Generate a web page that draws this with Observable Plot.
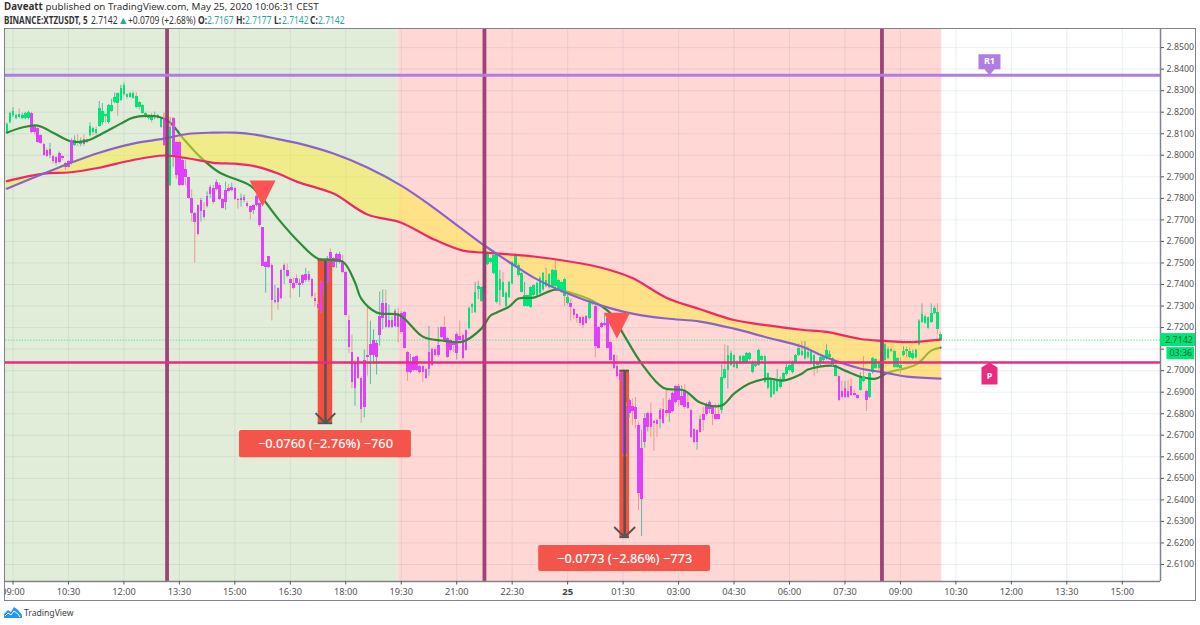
<!DOCTYPE html>
<html><head><meta charset="utf-8">
<script src="https://cdn.jsdelivr.net/npm/d3@7"></script>
<script src="https://cdn.jsdelivr.net/npm/@observablehq/plot@0.6"></script>
<style>
html,body{margin:0;padding:0;background:#fff;width:1200px;height:625px;overflow:hidden}
body{position:relative;font-family:"Noto Sans",sans-serif;color:#333}
#head{position:absolute;left:0;top:0;width:500px;height:28px;white-space:nowrap}
#head div{position:absolute;left:4px;top:1px;font-size:9.8px;line-height:12px}
#head b{font-weight:700}
#head span{position:absolute;top:14px;font-size:10px;line-height:12px;transform:scaleX(.85);transform-origin:left}
#head .v{color:#26a69a}
#head .k{font-weight:700}
#head .sym{font-weight:700;transform:scaleX(.81)}
#head .arrow{transform:none;font-size:10.5px;left:118px}
#chart{position:absolute;left:5px;top:29px;width:1190px;height:571px;outline:1.5px solid #80838a}
#chart svg{display:block}
#foot{position:absolute;left:4px;top:605px;height:15px;display:flex;align-items:center;font-size:8.6px;color:#3a3e47}
#foot svg{margin-right:2px}
</style></head><body>
<div id="head">
<div><b>Daveatt</b> published on TradingView.com, May 25, 2020 10:06:31 CEST</div>
<span class="sym" style="left:4px">BINANCE:XTZUSDT, 5</span>
<span style="left:91px">2.7142</span>
<span class="v arrow">▲</span>
<span style="left:128px">+0.0709 (+2.68%)</span>
<span class="k" style="left:198px">O:</span><span class="v" style="left:207px">2.7167</span>
<span class="k" style="left:236px">H:</span><span class="v" style="left:245px">2.7177</span>
<span class="k" style="left:274px">L:</span><span class="v" style="left:282px">2.7142</span>
<span class="k" style="left:310px">C:</span><span class="v" style="left:318px">2.7142</span>
</div>
<div id="chart"></div>
<div id="foot"><svg width="18" height="13" viewBox="0 0 18 13"><path d="M0 12 L0 8 L4 4 L7 6 L10 1 L14 4 L18 9 L18 12 Z" fill="#2196f3"/><path d="M1 10 L4 7 L7 9 L10 5 L14 8 L16 11" fill="none" stroke="#fff" stroke-width="1"/></svg>TradingView</div>
<script>
// Candles, prices in 1/10000 of a USDT. Bars are 5 minutes, bar 0 is 09:00.
const firstBar = -2;
const bodyTop = [
28145,28195,28205,28185,28190,28185,28195,28200,28195,28135,
28125,28090,28050,28020,28025,27995,27990,28010,27995,27960,
27970,28070,28070,28060,28065,28075,28070,28135,28125,28120,
28215,28205,28190,28230,28230,28270,28285,28310,28325,28280,
28285,28285,28275,28245,28230,28195,28180,28185,28185,28185,
28170,28170,28140,28130,28170,28060,28060,27975,27935,27895,
27800,27730,27765,27790,27745,27810,27850,27845,27875,27860,
27795,27835,27845,27850,27845,27795,27800,27805,27775,27760,
27765,27810,27775,27665,27500,27530,27490,27325,27380,27465,
27490,27465,27425,27405,27430,27405,27440,27445,27445,27425,
27335,27305,27410,27410,27510,27550,27520,27540,27540,27505,
27455,27232,27085,27040,27060,26965,27045,27070,27120,27140,
27125,27250,27310,27310,27235,27235,27275,27265,27265,27270,
27085,27040,27060,27065,27020,27020,27005,27085,27100,27100,
27115,27200,27200,27150,27140,27125,27170,27160,27165,27185,
27290,27305,27365,27390,27385,27565,27545,27520,27535,27540,
27425,27410,27360,27410,27500,27535,27490,27450,27350,27350,
27385,27395,27405,27430,27450,27420,27445,27465,27465,27420,
27410,27425,27340,27310,27285,27260,27245,27245,27250,27310,
27320,27300,27200,27220,27220,27240,27130,27070,27020,26985,
26985,26835,26860,26835,26830,26745,26640,26780,26800,26800,
26765,26770,26815,26820,26815,26860,26895,26925,26925,26880,
26910,26850,26815,26725,26720,26775,26795,26840,26850,26830,
26795,26795,26970,27005,27070,27080,27070,27040,27065,27065,
27080,27080,27040,27030,27095,27065,27065,26985,26960,26950,
26950,26960,26985,27015,27025,27040,27070,27105,27090,27105,
27085,27090,27070,27040,27060,27060,27095,27075,27055,27025,
26975,26905,26915,26905,26925,26895,26885,26975,26975,26905,
26985,27055,27050,27040,27120,27120,27100,27100,27090,27055,
27025,27090,27100,27090,27080,27095,27230,27260,27250,27245,
27265,27290,27270,27167];
const bodyBottom = [
28105,28150,28185,28170,28175,28170,28170,28170,28105,28105,
28060,28055,28000,27995,28000,27970,27960,27965,27985,27945,
27945,27960,28045,28055,28050,28050,28060,28090,28105,28100,
28135,28150,28180,28150,28205,28245,28240,28255,28280,28270,
28270,28265,28220,28220,28195,28175,28170,28160,28175,28170,
28130,28045,27880,27860,27990,27905,27860,27860,27895,27800,
27730,27690,27630,27740,27710,27760,27820,27780,27840,27795,
27755,27780,27830,27835,27795,27790,27790,27790,27760,27735,
27745,27765,27675,27485,27480,27480,27325,27315,27315,27335,
27465,27435,27405,27380,27405,27395,27405,27420,27420,27345,
27320,27290,27270,27370,27410,27520,27480,27500,27500,27455,
27255,27107,26945,26915,26965,26820,26830,27060,27070,27070,
27060,27165,27240,27200,27200,27200,27205,27200,27175,27105,
26990,26990,27000,27000,26990,26990,26965,27005,27025,27070,
27070,27155,27140,27060,27095,27115,27080,27140,27055,27095,
27195,27295,27270,27375,27320,27375,27495,27500,27450,27315,
27370,27340,27300,27340,27405,27490,27440,27365,27300,27300,
27295,27350,27350,27360,27375,27390,27385,27390,27390,27375,
27365,27345,27310,27295,27255,27240,27220,27210,27220,27240,
27310,27110,27105,27200,27210,27105,27045,27010,26975,26955,
26610,26610,26800,26810,26775,26430,26400,26665,26735,26735,
26755,26750,26775,26755,26800,26800,26810,26850,26860,26840,
26830,26825,26690,26665,26665,26715,26770,26795,26820,26795,
26775,26775,26815,26965,27000,27025,27015,27010,27035,27035,
27040,27050,26990,27020,27025,27045,26945,26915,26875,26890,
26905,26920,26955,26980,27000,26990,27040,27070,27070,27055,
27060,27035,27010,27025,27035,27045,27055,27060,27025,26975,
26860,26875,26875,26875,26885,26885,26870,26910,26950,26860,
26875,26990,27010,27010,27000,27045,27055,27090,27015,27015,
27010,27070,27090,27060,27055,27060,27120,27225,27220,27195,
27225,27265,27190,27142];
const wickHigh = [
28150,28200,28220,28190,28215,28195,28200,28205,28200,28140,
28130,28095,28055,28030,28055,28000,27995,28015,28000,27965,
27975,28075,28090,28095,28080,28095,28075,28150,28130,28130,
28250,28240,28190,28235,28260,28290,28290,28325,28335,28285,
28290,28295,28290,28250,28235,28200,28185,28195,28200,28190,
28175,28195,28180,28175,28175,28065,28065,27985,27975,27895,
27840,27735,27770,27800,27780,27830,27860,27860,27885,27870,
27800,27875,27865,27870,27850,27800,27820,27815,27785,27765,
27770,27815,27780,27665,27505,27530,27495,27395,27385,27470,
27495,27495,27430,27430,27445,27425,27445,27475,27460,27430,
27360,27310,27415,27410,27530,27565,27525,27545,27550,27535,
27460,27255,27165,27045,27065,26970,27095,27300,27230,27190,
27140,27365,27375,27375,27305,27250,27285,27290,27275,27275,
27090,27075,27065,27070,27025,27025,27010,27205,27105,27105,
27200,27205,27250,27155,27145,27130,27175,27230,27170,27190,
27295,27310,27410,27415,27390,27580,27550,27525,27535,27545,
27465,27455,27365,27415,27505,27545,27495,27455,27410,27350,
27390,27400,27410,27435,27455,27475,27450,27470,27515,27425,
27415,27430,27350,27330,27290,27265,27250,27250,27255,27315,
27325,27305,27205,27225,27260,27245,27135,27075,27070,26995,
26990,26850,26870,26870,26875,26760,26725,26800,26805,26850,
26770,26775,26825,26870,26915,26870,26900,26930,26935,26930,
26935,26900,26820,26730,26725,26790,26830,26850,26860,26835,
26845,26845,27030,27120,27115,27090,27075,27045,27070,27070,
27085,27085,27045,27035,27100,27070,27070,26990,26965,26955,
27005,26970,26990,27030,27045,27045,27075,27125,27135,27135,
27110,27095,27075,27045,27065,27065,27120,27090,27060,27030,
26980,26950,26950,26955,26960,26910,26890,26990,27065,26910,
26990,27060,27055,27045,27125,27130,27110,27105,27095,27060,
27060,27110,27110,27105,27095,27100,27235,27310,27260,27250,
27310,27300,27310,27177];
const wickLow = [
28100,28145,28175,28165,28170,28165,28165,28165,28100,28095,
28055,28050,27995,27990,27985,27960,27950,27960,27975,27930,
27940,27955,28040,28040,28040,28040,28055,28085,28090,28090,
28130,28140,28150,28145,28200,28240,28180,28250,28275,28260,
28265,28260,28215,28210,28190,28170,28165,28150,28165,28165,
28125,28040,27850,27855,27945,27890,27855,27855,27860,27795,
27690,27500,27625,27690,27700,27755,27800,27770,27835,27790,
27750,27745,27825,27830,27790,27750,27760,27780,27755,27700,
27725,27760,27665,27485,27360,27475,27230,27310,27280,27330,
27400,27430,27335,27375,27395,27340,27395,27410,27410,27335,
27295,27280,27265,27340,27405,27515,27475,27475,27495,27450,
27250,27080,26915,26835,26960,26755,26780,26975,26935,27030,
26980,27115,27190,27195,27195,27195,27200,27130,27170,27100,
26950,26985,26995,26995,26985,26945,26960,26975,27020,27065,
27060,27150,27135,27055,27090,27085,27050,27135,27050,27090,
27190,27265,27265,27330,27315,27360,27490,27495,27445,27310,
27300,27340,27295,27335,27400,27480,27435,27360,27295,27295,
27290,27345,27345,27355,27370,27385,27380,27385,27385,27370,
27360,27300,27305,27230,27240,27220,27205,27195,27215,27235,
27305,27060,27100,27195,27205,27100,27040,27005,26965,26950,
26600,26600,26780,26745,26730,26350,26230,26640,26715,26690,
26625,26690,26730,26750,26785,26760,26805,26845,26830,26835,
26820,26820,26685,26660,26630,26710,26720,26790,26800,26745,
26770,26770,26800,26960,26915,27020,27010,27005,27030,27030,
27035,27045,26985,27015,27020,27040,26940,26910,26870,26885,
26900,26915,26950,26975,26995,26985,27035,27065,27065,27050,
27055,27030,26975,26985,27015,27030,27050,27055,27020,26970,
26855,26870,26870,26870,26880,26880,26865,26905,26945,26810,
26870,26985,27005,27000,26995,27040,27050,27085,27010,27010,
26985,27065,27060,27055,27050,27055,27115,27220,27215,27190,
27220,27260,27165,27142];
// g = green body, m = magenta body
const bodyKinds = [
"ggggggggmm","mmmmmmmmmm","mmgggmgggg","gggggggggg","gggggggggg","gmmgmmmmmm",
"mmmmmmmmmm","mmmmmmmmmm","mmmmmmmmmm","mmmmmmmmmm","mmmmmmmmmm","mmmmmmmmmm",
"mmmmmmmmmm","mmmmmmmmmm","mmmmmmmmmm","gggggggggg","gggggggggg","gggggggggg",
"gggmmmmmmg","gmmmmmmmmm","mmmmmmmmmm","mmmmmmmmmm","mmmmmmmmmm","mmgggggggg",
"gggggggggg","gggggggggg","gggggggggg","mmmmmmmggm","gggggggggg","gggggggggg","gggg"].join("");
// u = rising bar (teal wick), d = falling bar (salmon wick)
const wickKinds = [
"uuuuduuudd","dddduddudd","duududuudd","uuduuuduud","udddddudud","dddddddddd",
"ddduduudud","dududduudd","uudduududu","udddduuuud","dduuudduud","dddudduduu",
"uuuduuuddd","duddddduud","uddddduddu","uuuuduudud","uduuuddduu","uduuuduudd",
"dduddddduu","udduuddddd","dduddduuud","ddudduuudu","dddduuduud","dduduudduu",
"uuduuddddd","uuuuduuddu","dddduuuudd","dduddddudd","uudduddddd","dudduuuudd","uudd"].join("");

// Moving averages (same units); emaBars are the bars where they were read.
const emaBars = [-2,10,18,28,39,49,57,65,72,79,86,93,104,115,126,136,146,153,162,169,180,191,201,212,223,234,245,256,264,275,283,290,301];
const redEma = [27880,27915,27920,27942,27978,27999,27985,27965,27961,27947,27915,27873,27822,27725,27687,27613,27557,27548,27539,27530,27508,27478,27430,27339,27285,27235,27210,27190,27180,27147,27138,27132,27144];
const purpleEma = [27845,27915,27961,28012,28054,28077,28100,28105,28105,28095,28075,28054,28008,27943,27859,27762,27655,27581,27495,27432,27358,27302,27265,27242,27228,27195,27153,27112,27061,27010,26991,26972,26963];
const fastBars = [-2,3,8,13,19,24,29,35,39,47,51,55,61,67,77,81,86,93,99,107,111,113,118,125,127,133,139,146,152,155,157,161,164,169,176,181,188,194,198,204,211,218,223,230,234,239,245,250,256,258,266,270,276,280,284,293,298,301];
const fastEma = [28105,28129,28138,28105,28064,28068,28101,28147,28175,28180,28152,28082,27989,27920,27859,27799,27706,27594,27520,27506,27409,27334,27270,27260,27242,27158,27140,27135,27195,27256,27270,27297,27335,27339,27376,27362,27325,27265,27172,27033,26921,26907,26852,26838,26893,26940,26963,26954,26986,27005,27023,27000,26968,26963,26991,27028,27093,27107];

const timeTickBars = [0,18,36,54,72,90,108,126,144,162,180,198,216,234,252,270,288,306,324,342,360];
const timeTickLabels = ["09:00","10:30","12:00","13:30","15:00","16:30","18:00","19:30","21:00","22:30","25","01:30","03:00","04:30","06:00","07:30","09:00","10:30","12:00","13:30","15:00"];
const priceTicks = [2.61,2.62,2.63,2.64,2.65,2.66,2.67,2.68,2.69,2.70,2.71,2.72,2.73,2.74,2.75,2.76,2.77,2.78,2.79,2.80,2.81,2.82,2.83,2.84,2.85];

const lastPrice = 2.7142, r1Level = 2.8372, pLevel = 2.7038;
const sessionBars = [50,153,282];
const zones = [[-3,125,"#e1edd9"],[125,301.4,"#ffd7d5"]];
const measures = [
  {bar:101.4, half:2.35, head:3.2, top:2.7516, bottom:2.6756, text:"−0.0760 (−2.76%) −760", b1:73.5, b2:129.3, y1:2.6722, y2:2.6596},
  {bar:198.5, half:1.55, head:3.4, top:2.7000, bottom:2.6227, text:"−0.0773 (−2.86%) −773", b1:170.6, b2:226.4, y1:2.6188, y2:2.6067}
];
const signals = [{bar:81, price:2.7822},{bar:196, price:2.7209}];

const candles = d3.range(bodyTop.length).map(i => ({
  bar: firstBar + i,
  top: bodyTop[i]/1e4, bottom: bodyBottom[i]/1e4,
  high: wickHigh[i]/1e4, low: wickLow[i]/1e4,
  body: bodyKinds[i] === "g" ? "#00e676" : "#e040fb",
  wick: wickKinds[i] === "u" ? "#5cb8a8" : "#ef9a88"
}));
const band = emaBars.map((b,i)=>({bar:b, red:redEma[i]/1e4, purple:purpleEma[i]/1e4}));
const fast = fastBars.map((b,i)=>({bar:b, v:fastEma[i]/1e4}));

// Draw order only: the bars that reach into the yellow band are painted again over its fill.
const at = (xs,ys,x) => { const j = Math.min(Math.max(d3.bisectRight(xs,x),1),xs.length-1); const t=(x-xs[j-1])/(xs[j]-xs[j-1]); return (ys[j-1]+(ys[j]-ys[j-1])*t)/1e4; };
const inBand = candles.filter(c => {
  const a = at(emaBars,redEma,c.bar), b = at(emaBars,purpleEma,c.bar);
  return c.high >= Math.min(a,b) && c.low <= Math.max(a,b);
});

const shape = fn => ({draw(c,size){ fn(c, Math.sqrt(size/Math.PI)); c.closePath(); }});
const downTri = shape((c,r)=>{c.moveTo(-r,-r);c.lineTo(r,-r);c.lineTo(0,r);});
const calloutDown = shape((c,r)=>{c.moveTo(0,0);c.lineTo(-5,-6);c.lineTo(-r,-6);c.lineTo(-r,-21);c.lineTo(r,-21);c.lineTo(r,-6);c.lineTo(5,-6);});
const calloutUp = shape((c,r)=>{c.moveTo(0,0);c.lineTo(r,5);c.lineTo(r,22);c.lineTo(-r,22);c.lineTo(-r,5);});
const candleMarks = data => [
  Plot.ruleX(data,{x:"bar",y1:"low",y2:"high",stroke:"wick",strokeWidth:1}),
  Plot.ruleX(data,{x:"bar",y1:"bottom",y2:"top",stroke:"body",strokeWidth:2.6,shapeRendering:"crispEdges"})
];

const xMin=-2.43, xMax=372.4, yMin=2.6021, yMax=2.8584;
const font = '"Noto Sans",sans-serif';
const chart = Plot.plot({
  width:1190, height:571,
  marginLeft:0, marginRight:35, marginTop:0, marginBottom:19,
  style:{fontFamily:font, background:"transparent", overflow:"hidden"},
  x:{domain:[xMin,xMax], axis:null},
  y:{domain:[yMin,yMax], axis:null},
  marks:[
    ...zones.map(z=>Plot.rect([z],{x1:z[0],x2:z[1],fill:z[2]})),
    Plot.gridX(timeTickBars,{stroke:"#5a8aa8",strokeOpacity:.13,strokeWidth:1}),
    Plot.gridY(priceTicks,{stroke:"#5a8aa8",strokeOpacity:.13,strokeWidth:1}),
    Plot.ruleY([lastPrice],{stroke:"#78e8ac",strokeWidth:1.3,strokeDasharray:"1.4,1.4"}),
    // measure rectangles
    Plot.rect(measures,{x1:d=>d.bar-d.half,x2:d=>d.bar+d.half,y1:"bottom",y2:"top",fill:"#f44f3c"}),
    ...candleMarks(candles),
    // measure arrows
    Plot.ruleX(measures,{x:"bar",y1:"bottom",y2:"top",stroke:"#555",strokeWidth:2.5}),
    Plot.ruleY(measures,{y:"top",x1:d=>d.bar-d.half,x2:d=>d.bar+d.half,stroke:"#555",strokeWidth:2}),
    Plot.ruleY(measures,{y:"bottom",x1:d=>d.bar-d.half,x2:d=>d.bar+d.half,stroke:"#555",strokeWidth:2}),
    Plot.link(measures,{x1:d=>d.bar-d.head,x2:"bar",y1:d=>d.bottom+.0047,y2:"bottom",stroke:"#555",strokeWidth:2}),
    Plot.link(measures,{x1:d=>d.bar+d.head,x2:"bar",y1:d=>d.bottom+.0047,y2:"bottom",stroke:"#555",strokeWidth:2}),
    Plot.line(fast,{x:"bar",y:"v",stroke:"#2e8b37",strokeWidth:2.2,curve:"catmull-rom"}),
    Plot.areaY(band,{x:"bar",y1:"red",y2:"purple",fill:"#ffeb3b",fillOpacity:.5,curve:"catmull-rom"}),
    ...candleMarks(inBand),
    Plot.line(band,{x:"bar",y:"red",stroke:"#ef2a62",strokeWidth:2.2,curve:"catmull-rom"}),
    Plot.line(band,{x:"bar",y:"purple",stroke:"#8a63c8",strokeWidth:2.2,curve:"catmull-rom"}),
    Plot.dot(signals,{x:"bar",y:"price",r:13,symbol:downTri,fill:"#ff5252",stroke:"none"}),
    Plot.ruleX(sessionBars,{stroke:"#96366f",strokeWidth:3.8,strokeOpacity:.92}),
    Plot.ruleY([r1Level],{x1:xMin,x2:xMax,stroke:"#b07ee0",strokeWidth:3}),
    Plot.ruleY([pLevel],{x1:xMin,x2:xMax,stroke:"#ec2a7f",strokeWidth:2.6}),
    // pivots
    Plot.dot([r1Level],{x:()=>316.9,y:d=>d,r:11,symbol:calloutDown,fill:"#b07ee0",stroke:"none"}),
    Plot.text(["R1"],{x:()=>316.9,y:()=>2.8437,fill:"#fff",fontSize:9,fontWeight:"bold"}),
    Plot.dot([pLevel],{x:()=>316.9,y:d=>d,r:8,symbol:calloutUp,fill:"#ec2a7f",stroke:"none"}),
    Plot.text(["P"],{x:()=>316.9,y:()=>2.6973,fill:"#fff",fontSize:9,fontWeight:"bold"}),
    // measure labels
    Plot.rect(measures,{x1:"b1",x2:"b2",y1:"y2",y2:"y1",fill:"#f4554a",rx:2}),
    Plot.text(measures,{x:"bar",y:d=>(d.y1+d.y2)/2,text:"text",fill:"#fff",fontSize:12.8,fontWeight:500}),
    // axes
    Plot.ruleY([yMin],{x1:xMin,x2:xMax,stroke:"#80838a",strokeWidth:1.5}),
    Plot.ruleX([xMax],{y1:yMin,y2:yMax,stroke:"#80838a",strokeWidth:1.5}),
    Plot.axisX(timeTickBars,{anchor:"bottom",tickSize:3.5,tickPadding:3,label:null,fontSize:9.2,color:"#555",stroke:"#555",
      tickFormat:(d,i)=>timeTickLabels[i]==="25"?"":timeTickLabels[i]}),
    Plot.text(["25"],{x:()=>180,y:()=>2.5974,fontSize:9.5,fontWeight:"bold",fill:"#444"}),
    // the 2.7100 label sits behind the last-price tags, as in the original
    Plot.axisY(priceTicks,{anchor:"right",tickSize:3,tickPadding:3,label:null,fontSize:8.8,color:"#555",stroke:"#555",
      tickFormat:d=>d===2.71?"":d.toFixed(4)}),
    // last price tags
    Plot.rect([0],{x1:()=>372.4,x2:()=>384,y1:()=>2.7112,y2:()=>2.7172,fill:"#00e676"}),
    Plot.text(["2.7142"],{x:()=>378.4,y:()=>lastPrice,fontSize:8.8,fill:"#063"}),
    Plot.rect([0],{x1:()=>374.5,x2:()=>383.5,y1:()=>2.7051,y2:()=>2.7107,fill:"#00e676"}),
    Plot.text(["03:36"],{x:()=>379,y:()=>2.7079,fontSize:8.8,fill:"#063"})
  ]
});
document.getElementById("chart").append(chart);
</script>
</body></html>
